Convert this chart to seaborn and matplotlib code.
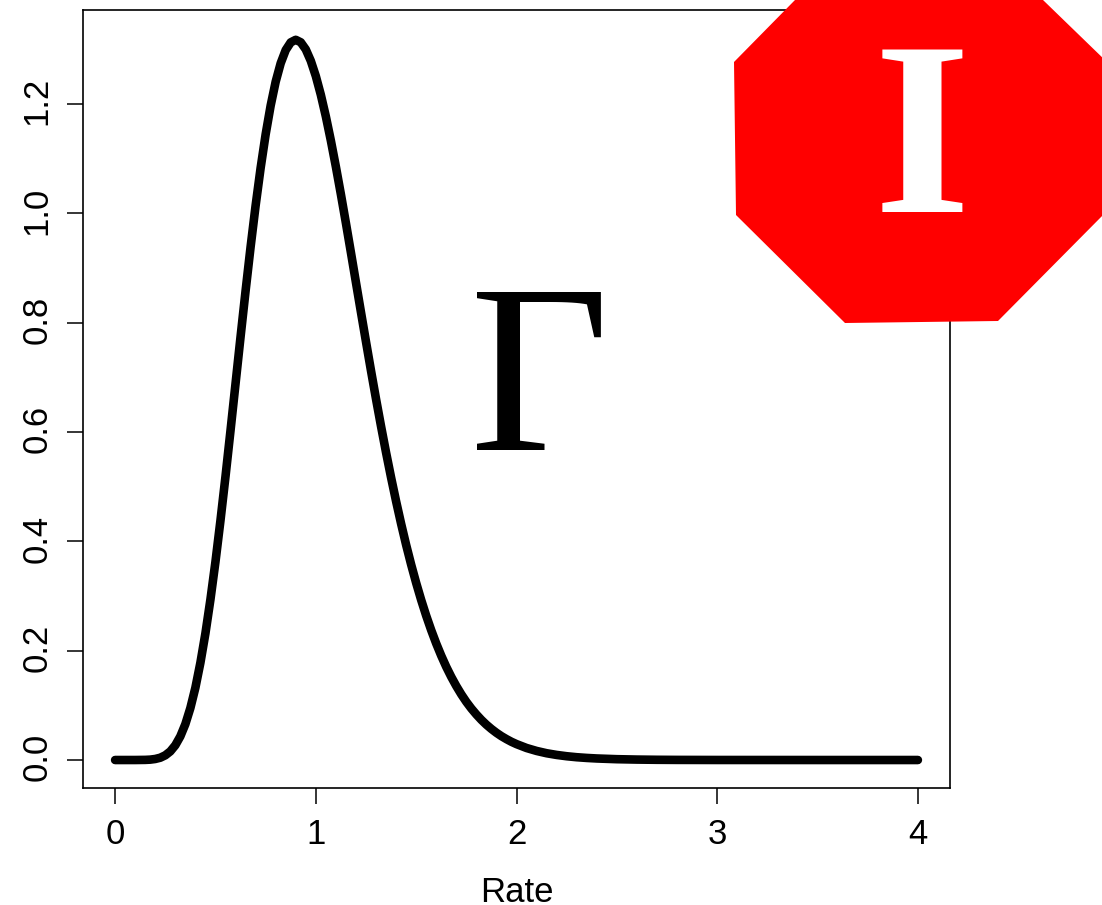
import matplotlib
matplotlib.use('Agg')
import matplotlib.pyplot as plt
from matplotlib.patches import Polygon
from matplotlib.transforms import ScaledTranslation
import pandas as pd
import seaborn as sns

# values
rate = [0.0, 0.05, 0.1, 0.15, 0.175, 0.2, 0.225, 0.25, 0.275, 0.3, 0.325, 0.35, 0.375, 0.4, 0.425, 0.45,
        0.475, 0.5, 0.525, 0.55, 0.575, 0.6, 0.625, 0.65, 0.675, 0.7, 0.725, 0.75, 0.775, 0.8, 0.825,
        0.85, 0.875, 0.9, 0.925, 0.95, 0.975, 1.0, 1.025, 1.05, 1.075, 1.1, 1.125, 1.15, 1.175, 1.2,
        1.225, 1.25, 1.275, 1.3, 1.325, 1.35, 1.375, 1.4, 1.425, 1.45, 1.475, 1.5, 1.525, 1.55, 1.575,
        1.6, 1.625, 1.65, 1.675, 1.7, 1.725, 1.75, 1.775, 1.8, 1.825, 1.85, 1.875, 1.9, 1.925, 1.95,
        1.975, 2.0, 2.05, 2.1, 2.15, 2.2, 2.25, 2.3, 2.35, 2.4, 2.5, 2.6, 2.7, 2.8, 3.0, 3.5, 4.0]
density = [0.0, 0.0, 0.00001, 0.00024, 0.0007, 0.0019, 0.0042, 0.0086, 0.0158, 0.027, 0.0433, 0.0656, 0.0951,
           0.1323, 0.178, 0.2317, 0.2937, 0.3627, 0.4383, 0.5187, 0.6027, 0.6884, 0.774, 0.8579, 0.9384,
           1.014, 1.0829, 1.1444, 1.1971, 1.2408, 1.2746, 1.2987, 1.3128, 1.3175, 1.3129, 1.2999, 1.279,
           1.2511, 1.2169, 1.1773, 1.1331, 1.0853, 1.0348, 0.9822, 0.9282, 0.8736, 0.8192, 0.7653, 0.7122,
           0.6605, 0.6106, 0.5626, 0.5169, 0.4734, 0.4323, 0.3936, 0.3576, 0.324, 0.2928, 0.264, 0.2375,
           0.2131, 0.1908, 0.1704, 0.152, 0.1353, 0.1201, 0.1064, 0.0942, 0.0833, 0.0734, 0.0646, 0.0568,
           0.0498, 0.0436, 0.0382, 0.0333, 0.0291, 0.022, 0.0166, 0.0124, 0.0093, 0.0069, 0.0051, 0.0038,
           0.0028, 0.0015, 0.0008, 0.0004, 0.0002, 0.00005, 0.0, 0.0]
x_ticks = [0, 1, 2, 3, 4]
y_ticks = [0.0, 0.2, 0.4, 0.6, 0.8, 1.0, 1.2]

W, H = 1102, 905

sns.set_theme(style='white')
plt.rcParams['font.family'] = ['Liberation Sans', 'DejaVu Sans']

df = pd.DataFrame({'Rate': rate, 'Density': density})

fig = plt.figure(figsize=(W / 100, H / 100), dpi=100)
ax = fig.add_axes([83 / W, 1 - 788 / H, (950 - 83) / W, (788 - 10) / H])
sns.lineplot(data=df, x='Rate', y='Density', color='black', linewidth=6.2, ax=ax,
             solid_capstyle='round', solid_joinstyle='round')

ax.set_xlim(-0.16, 4.16)
ax.set_ylim(-0.0512, 1.372)
ax.set_xticks(x_ticks)
ax.set_xticklabels([str(t) for t in x_ticks])
ax.set_yticks(y_ticks)
ax.set_yticklabels(['%.1f' % t for t in y_ticks], rotation=90, va='center')
ax.tick_params(axis='both', bottom=True, left=True, length=11.5, width=1.1, color='black',
               labelsize=25, labelcolor='black', pad=10)
ax.set_xlabel('Rate', fontsize=25, color='black', labelpad=18)
ax.set_ylabel('')
for s in ax.spines.values():
    s.set_visible(True)
    s.set_color('black')
    s.set_linewidth(1.2)

# nudge the rotated labels so they sit centred on their ticks
for label in ax.get_yticklabels():
    label.set_transform(label.get_transform() + ScaledTranslation(0, 2 / 72, fig.dpi_scale_trans))

# stop sign in the top right corner, positions in pixels
corners = [(734, 62), (736, 215), (845, 323), (998, 321), (1108, 210), (1108, 63), (1043, 0), (795, 0)]
fig.add_artist(Polygon([(x / W, 1 - y / H) for x, y in corners], closed=True, facecolor='#ff0000',
                       edgecolor='none', transform=fig.transFigure))

fig.text(540 / W, 1 - 450 / H, '\u0393', family='Liberation Serif', fontsize=174,
         color='black', ha='center', va='baseline')
fig.text(922 / W, 1 - 212 / H, 'I', family='Liberation Serif', weight='bold', fontsize=179,
         color='white', ha='center', va='baseline')

fig.savefig('out.png', dpi=100)
